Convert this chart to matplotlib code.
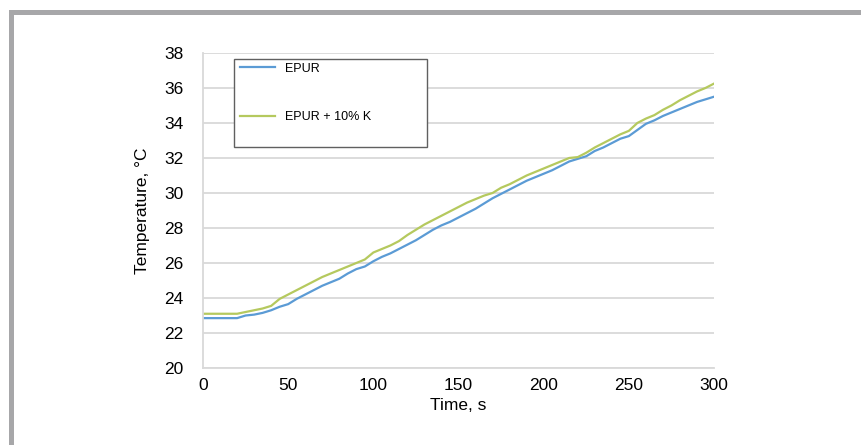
import numpy as np
import matplotlib
matplotlib.use('Agg')
import matplotlib.pyplot as plt
from matplotlib.patches import Rectangle

plt.rcParams['font.family'] = ['Liberation Sans', 'DejaVu Sans']

# time axis, s
time = [0, 5, 10, 15, 20, 25, 30, 35, 40, 45, 50, 55, 60, 65, 70, 75, 80, 85, 90, 95,
        100, 105, 110, 115, 120, 125, 130, 135, 140, 145, 150, 155, 160, 165, 170, 175,
        180, 185, 190, 195, 200, 205, 210, 215, 220, 225, 230, 235, 240, 245, 250, 255,
        260, 265, 270, 275, 280, 285, 290, 295, 300]

epur = [22.85, 22.85, 22.85, 22.85, 22.85, 23.0, 23.05, 23.15, 23.3, 23.5, 23.65, 23.95,
        24.2, 24.45, 24.7, 24.9, 25.1, 25.4, 25.65, 25.8, 26.1, 26.35, 26.55, 26.8, 27.05,
        27.3, 27.6, 27.9, 28.15, 28.35, 28.6, 28.85, 29.1, 29.4, 29.7, 29.95, 30.2, 30.45,
        30.7, 30.9, 31.1, 31.3, 31.55, 31.8, 31.95, 32.1, 32.4, 32.6, 32.85, 33.1, 33.25,
        33.6, 33.95, 34.15, 34.4, 34.6, 34.8, 35.0, 35.2, 35.35, 35.5]

epur_k = [23.1, 23.1, 23.1, 23.1, 23.1, 23.2, 23.3, 23.4, 23.55, 23.95, 24.2, 24.45, 24.7,
          24.95, 25.2, 25.4, 25.6, 25.8, 26.0, 26.2, 26.6, 26.8, 27.0, 27.25, 27.6, 27.9,
          28.2, 28.45, 28.7, 28.95, 29.2, 29.45, 29.65, 29.85, 30.0, 30.3, 30.5, 30.75,
          31.0, 31.2, 31.4, 31.6, 31.8, 32.0, 32.05, 32.3, 32.6, 32.85, 33.1, 33.35, 33.55,
          34.0, 34.25, 34.45, 34.75, 35.0, 35.3, 35.55, 35.8, 36.0, 36.25]

labels = ['EPUR', 'EPUR + 10% K']
x_ticks = [0, 50, 100, 150, 200, 250, 300]
y_ticks = [20, 22, 24, 26, 28, 30, 32, 34, 36, 38]

fig = plt.figure(figsize=(8.61, 4.45), dpi=100)
ax = fig.add_axes([0.2358, 0.173, 0.5935, 0.708])

ax.plot(time, epur, color='#5b9bd5', lw=1.6, label=labels[0])
ax.plot(time, epur_k, color='#b5c95e', lw=1.6, label=labels[1])

ax.set_xlim(0, 300)
ax.set_ylim(20, 38)
ax.set_xticks(x_ticks)
ax.set_yticks(y_ticks)
ax.tick_params(length=0, labelsize=12.5)
ax.tick_params(axis='y', pad=14)
ax.tick_params(axis='x', pad=7)
ax.grid(axis='y', color='#d9d9d9', lw=1.3)
ax.set_axisbelow(True)
for s in ['top', 'right']:
    ax.spines[s].set_visible(False)
for s in ['left', 'bottom']:
    ax.spines[s].set_color('#d9d9d9')
    ax.spines[s].set_linewidth(1.3)

ax.set_xlabel('Time, s', fontsize=12.5, labelpad=4)
ax.set_ylabel('Temperature, °C', fontsize=12.5, labelpad=10)

# legend box
ax.add_patch(Rectangle((0.0607, 0.702), 0.378, 0.279, transform=ax.transAxes,
                       facecolor='white', edgecolor='#606060', lw=1.0, zorder=5))
leg = ax.legend(loc='upper left', bbox_to_anchor=(0.062, 0.985), frameon=False,
                fontsize=9, handlelength=2.8, handletextpad=0.8, labelspacing=2.9,
                borderaxespad=0)
leg.set_zorder(6)

# gray frame on top and left of the picture
fig.add_artist(Rectangle((9 / 861, 1 - 15 / 445), 1, 5 / 445, transform=fig.transFigure,
                         facecolor='#a7a7a9', edgecolor='none'))
fig.add_artist(Rectangle((9 / 861, 0), 5 / 861, 1 - 10 / 445, transform=fig.transFigure,
                         facecolor='#a7a7a9', edgecolor='none'))

fig.savefig('out.png', dpi=100)
